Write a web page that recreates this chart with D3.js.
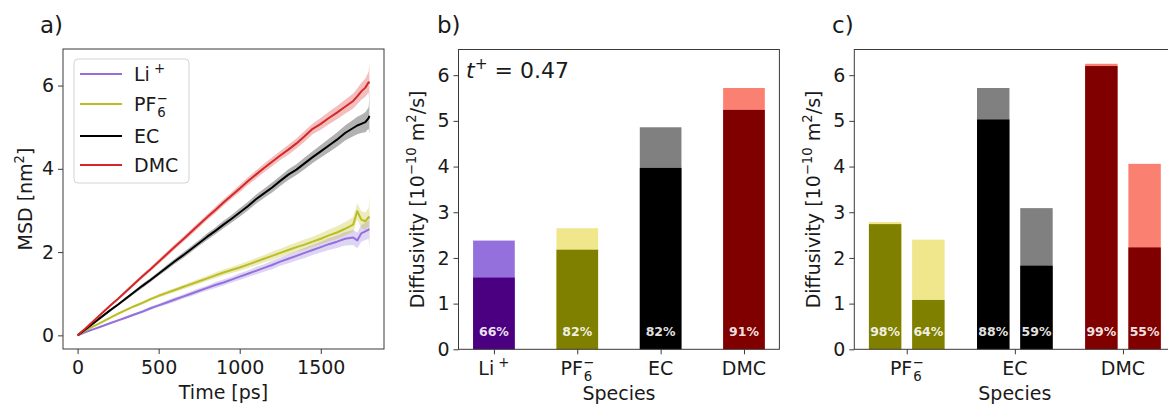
<!DOCTYPE html>
<html><head><meta charset="utf-8">
<script src="https://cdn.jsdelivr.net/npm/d3@7"></script>
<style>
body{margin:0;background:#fff}
svg{display:block}
text{font-family:"DejaVu Sans",sans-serif}
</style>
</head><body>
<svg id="chart" width="1168" height="404"></svg>
<script>
// ---------- Panel a: MSD curves ----------
const msdTime = [0,50,100,150,200,250,300,350,400,450,500,550,600,650,700,750,800,850,900,950,1000,
  1050,1100,1150,1200,1250,1300,1350,1400,1450,1500,1550,1600,1650,1700,1725,1750,1775,1795,1800];
const msdLi  = [0.00,0.08,0.15,0.22,0.29,0.36,0.43,0.50,0.57,0.65,0.72,0.79,0.86,0.93,1.00,1.07,1.14,1.21,1.27,1.34,1.41,
  1.48,1.55,1.62,1.69,1.77,1.84,1.91,1.98,2.05,2.12,2.19,2.25,2.32,2.35,2.28,2.45,2.50,2.54,2.55];
const msdPF6 = [0.00,0.12,0.22,0.32,0.42,0.52,0.61,0.70,0.78,0.87,0.95,1.02,1.09,1.16,1.23,1.30,1.37,1.44,1.51,1.57,1.63,
  1.70,1.77,1.84,1.91,1.98,2.05,2.12,2.18,2.25,2.32,2.40,2.47,2.56,2.66,2.98,2.78,2.74,2.84,2.81];
const msdEC  = [0.00,0.15,0.30,0.45,0.60,0.74,0.89,1.04,1.19,1.33,1.48,1.63,1.78,1.92,2.07,2.22,2.37,2.51,2.66,2.80,2.95,
  3.10,3.27,3.41,3.55,3.71,3.86,3.98,4.13,4.28,4.42,4.56,4.70,4.86,4.98,5.04,5.08,5.12,5.22,5.27];
const msdDMC = [0.00,0.17,0.35,0.53,0.71,0.88,1.06,1.24,1.42,1.59,1.77,1.95,2.13,2.30,2.48,2.66,2.84,3.01,3.19,3.36,3.53,
  3.70,3.86,4.02,4.17,4.32,4.46,4.61,4.78,4.96,5.08,5.22,5.35,5.49,5.63,5.74,5.86,5.95,6.08,6.05];
const errLi  = [0,0.01,0.01,0.02,0.02,0.03,0.03,0.03,0.04,0.04,0.04,0.05,0.05,0.05,0.06,0.06,0.06,0.07,0.07,0.07,0.08,
  0.08,0.09,0.09,0.10,0.10,0.11,0.11,0.12,0.12,0.13,0.14,0.15,0.16,0.18,0.19,0.20,0.21,0.22,0.45];
const errPF6 = [0,0.01,0.01,0.02,0.02,0.03,0.03,0.03,0.04,0.04,0.04,0.05,0.05,0.05,0.06,0.06,0.06,0.07,0.07,0.07,0.08,
  0.08,0.09,0.09,0.10,0.10,0.11,0.11,0.12,0.12,0.13,0.14,0.15,0.16,0.18,0.19,0.20,0.21,0.22,0.55];
const errEC  = [0,0.01,0.02,0.02,0.03,0.03,0.04,0.04,0.05,0.05,0.05,0.06,0.06,0.07,0.07,0.07,0.08,0.08,0.09,0.09,0.10,
  0.10,0.11,0.11,0.12,0.12,0.13,0.13,0.14,0.14,0.15,0.16,0.17,0.18,0.20,0.21,0.22,0.24,0.26,0.43];
const errDMC = [0,0.01,0.02,0.02,0.03,0.03,0.04,0.04,0.05,0.05,0.05,0.06,0.06,0.06,0.07,0.07,0.07,0.08,0.08,0.08,0.09,
  0.09,0.10,0.10,0.11,0.11,0.12,0.12,0.13,0.13,0.14,0.15,0.16,0.17,0.18,0.19,0.20,0.22,0.25,0.50];
const msdNames  = ["Li+","PF6-","EC","DMC"];
const msdColors = ["#9370db","#bcbd22","#000000","#d62728"];
const msdXTicks = [0,500,1000,1500];
const msdYTicks = [0,2,4,6];

// ---------- Panel b: diffusivity per species ----------
const speciesB  = ["Li+","PF6-","EC","DMC"];
const totalB    = [2.38,2.65,4.86,5.72];
const distinctB = [1.57,2.18,3.97,5.24];
const pctB      = ["66%","82%","82%","91%"];
const darkB     = ["#4b0082","#808000","#000000","#800000"];
const lightB    = ["#9370db","#f0e68c","#808080","#fa8072"];
const tPlusText = "0.47";

// ---------- Panel c: two conditions per species ----------
const speciesC   = ["PF6-","EC","DMC"];
const totalC1    = [2.785,5.72,6.25];
const distinctC1 = [2.74,5.03,6.20];
const pctC1      = ["98%","88%","99%"];
const totalC2    = [2.40,3.09,4.06];
const distinctC2 = [1.08,1.83,2.23];
const pctC2      = ["64%","59%","55%"];
const darkC      = ["#808000","#000000","#800000"];
const lightC     = ["#f0e68c","#808080","#fa8072"];
const diffTicks  = [0,1,2,3,4,5,6];

// ---------- helpers ----------
const svg = d3.select("#chart");
svg.append("rect").attr("width",1168).attr("height",404).attr("fill","#fff");
const FS = 19, INK = "#1a1a1a", SPINE = "#3a3a3a";

function rich(textSel, parts, fs) {
  let cur = 0;
  parts.forEach(p => {
    const small = !!p.s;
    const target = p.s === "sub" ? fs*0.30 : (p.s === "sup" ? -fs*0.42 : 0);
    const ts = textSel.append("tspan").text(p.t)
      .attr("dy", target - cur)
      .attr("font-size", small ? fs*0.7 : fs);
    if (p.dx) ts.attr("dx", p.dx);
    if (p.it) ts.attr("font-style","italic");
    cur = target;
  });
}
function speciesParts(name, fs) {
  if (name === "Li+") return [{t:"Li"},{t:"+",s:"sup",dx:fs*0.22}];
  if (name === "PF6-") return [{t:"PF"},{t:"6",s:"sub",dx:fs*0.05},{t:"\u2212",s:"sup",dx:-fs*0.7*0.70}];
  return [{t:name}];
}
function frame(g, box) {
  g.append("rect").attr("x",box.l).attr("y",box.t)
    .attr("width",box.r-box.l).attr("height",box.b-box.t)
    .attr("fill","none").attr("stroke",SPINE).attr("stroke-width",1);
}
function yAxis(g, scale, box, ticks) {
  const a = g.append("g").attr("transform",`translate(${box.l},0)`)
    .call(d3.axisLeft(scale).tickValues(ticks).tickSize(5).tickPadding(4).tickFormat(d3.format("d")));
  a.select(".domain").remove();
  a.selectAll(".tick line").attr("stroke",SPINE);
  a.selectAll(".tick text").attr("font-size",FS).attr("fill",INK)
    .attr("font-family","DejaVu Sans");
}
function xAxisNum(g, scale, box, ticks) {
  const a = g.append("g").attr("transform",`translate(0,${box.b})`)
    .call(d3.axisBottom(scale).tickValues(ticks).tickSize(5).tickPadding(7).tickFormat(d3.format("d")));
  a.select(".domain").remove();
  a.selectAll(".tick line").attr("stroke",SPINE);
  a.selectAll(".tick text").attr("font-size",FS).attr("fill",INK)
    .attr("font-family","DejaVu Sans");
}
function xAxisCat(g, scale, box, names) {
  const a = g.append("g").attr("transform",`translate(0,${box.b})`)
    .call(d3.axisBottom(scale).tickValues(d3.range(names.length)).tickSize(5).tickFormat(""));
  a.select(".domain").remove();
  a.selectAll(".tick line").attr("stroke",SPINE);
  names.forEach((n,i) => {
    const t = g.append("text").attr("x",scale(i)).attr("y",box.b+26)
      .attr("text-anchor","middle").attr("fill",INK).attr("font-size",FS);
    rich(t, speciesParts(n,FS), FS);
  });
}
function diffYLabel(g, x, yc) {
  const t = g.append("text").attr("transform",`translate(${x},${yc}) rotate(-90)`)
    .attr("text-anchor","middle").attr("fill",INK).attr("font-size",FS);
  rich(t,[{t:"Diffusivity [10"},{t:"\u221210",s:"sup"},{t:" m"},{t:"2",s:"sup"},{t:"/s]"}],FS);
}
function panelTitle(x, s) {
  svg.append("text").attr("x",x).attr("y",33).attr("font-size",23).attr("fill",INK).text(s);
}
function pctLabel(g, x, s) {
  g.append("text").attr("x",x).attr("y",335.5).attr("text-anchor","middle").attr("font-size",12.5)
    .attr("font-weight","bold").attr("fill","#fff").attr("fill-opacity",0.9).text(s);
}

// ---------- Panel a ----------
{
  const box = {l:63, r:384, t:49, b:349};
  const g = svg.append("g");
  const tMin = d3.min(msdTime), tMax = d3.max(msdTime), tPad = 0.05*(tMax-tMin);
  const x = d3.scaleLinear().domain([tMin-tPad, tMax+tPad]).range([box.l, box.r]);
  const series = [msdLi, msdPF6, msdEC, msdDMC];
  const errs = [errLi, errPF6, errEC, errDMC];
  let lo = Infinity, hi = -Infinity;
  series.forEach((s,k)=>s.forEach((v,i)=>{lo=Math.min(lo,v-errs[k][i]);hi=Math.max(hi,v+errs[k][i]);}));
  const yPad = 0.05*(hi-lo);
  const y = d3.scaleLinear().domain([lo-yPad, hi+yPad]).range([box.b, box.t]);

  const area = d3.area().x(d=>x(d.t)).y0(d=>y(d.v-d.e)).y1(d=>y(d.v+d.e));
  const line = d3.line().x(d=>x(d.t)).y(d=>y(d.v));
  series.forEach((s,k)=>{
    const pts = msdTime.map((t,i)=>({t, v:s[i], e:errs[k][i]}));
    g.append("path").attr("d",area(pts)).attr("fill",msdColors[k]).attr("fill-opacity",0.3).attr("stroke","none");
  });
  series.forEach((s,k)=>{
    const pts = msdTime.map((t,i)=>({t, v:s[i], e:errs[k][i]}));
    g.append("path").attr("d",line(pts)).attr("fill","none").attr("stroke",msdColors[k])
      .attr("stroke-width",2).attr("stroke-linejoin","round");
  });
  frame(g, box);
  yAxis(g, y, box, msdYTicks);
  xAxisNum(g, x, box, msdXTicks);
  g.append("text").attr("x",(box.l+box.r)/2).attr("y",399).attr("text-anchor","middle")
    .attr("font-size",FS).attr("fill",INK).text("Time [ps]");
  const yl = g.append("text").attr("transform",`translate(32,${(box.t+box.b)/2}) rotate(-90)`)
    .attr("text-anchor","middle").attr("font-size",FS).attr("fill",INK);
  rich(yl,[{t:"MSD [nm"},{t:"2",s:"sup"},{t:"]"}],FS);

  // legend
  const lg = g.append("g");
  lg.append("rect").attr("x",74).attr("y",59).attr("width",115).attr("height",124).attr("rx",4)
    .attr("fill","#fff").attr("fill-opacity",0.85).attr("stroke","#d4d4d4");
  const rowY = [74,104,136,165];
  msdNames.forEach((n,k)=>{
    lg.append("line").attr("x1",80).attr("x2",122).attr("y1",rowY[k]).attr("y2",rowY[k])
      .attr("stroke",msdColors[k]).attr("stroke-width",2);
    const t = lg.append("text").attr("x",134).attr("y",rowY[k]+7).attr("font-size",FS).attr("fill",INK);
    rich(t, speciesParts(n,FS), FS);
  });
  panelTitle(40,"a)");
}

// shared y scale for panels b and c
const yMaxBC = d3.max([...totalB, ...totalC1, ...totalC2]) * 1.05;

// ---------- Panel b ----------
{
  const box = {l:458.5, r:779.4, t:49.5, b:349.3};
  const g = svg.append("g");
  const w = 0.5, n = speciesB.length;
  const pad = 0.05*((n-1+w/2)-(-w/2));
  const x = d3.scaleLinear().domain([-w/2-pad, n-1+w/2+pad]).range([box.l, box.r]);
  const y = d3.scaleLinear().domain([0, yMaxBC]).range([box.b, box.t]);
  const bw = x(w)-x(0);
  speciesB.forEach((s,i)=>{
    g.append("rect").attr("x",x(i)-bw/2).attr("width",bw).attr("y",y(totalB[i])).attr("height",y(0)-y(totalB[i])).attr("fill",lightB[i]);
    g.append("rect").attr("x",x(i)-bw/2).attr("width",bw).attr("y",y(distinctB[i])).attr("height",y(0)-y(distinctB[i])).attr("fill",darkB[i]);
    pctLabel(g, x(i), pctB[i]);
  });
  frame(g, box);
  yAxis(g, y, box, diffTicks);
  xAxisCat(g, x, box, speciesB);
  g.append("text").attr("x",(box.l+box.r)/2).attr("y",400).attr("text-anchor","middle")
    .attr("font-size",FS).attr("fill",INK).text("Species");
  diffYLabel(g, 424, (box.t+box.b)/2);
  const tt = g.append("text").attr("x",466).attr("y",78).attr("font-size",22).attr("fill",INK);
  rich(tt,[{t:"t",it:true},{t:"+",s:"sup"},{t:" = "+tPlusText}],22);
  panelTitle(437,"b)");
}

// ---------- Panel c ----------
{
  const box = {l:854.3, r:1175.4, t:49.5, b:349.3};
  const g = svg.append("g");
  const w = 0.3, off = 0.2, n = speciesC.length;
  const lo = -off-w/2, hi = n-1+off+w/2, pad = 0.05*(hi-lo);
  const x = d3.scaleLinear().domain([lo-pad, hi+pad]).range([box.l, box.r]);
  const y = d3.scaleLinear().domain([0, yMaxBC]).range([box.b, box.t]);
  const bw = x(w)-x(0);
  const groups = [
    {o:-off, tot:totalC1, dis:distinctC1, pct:pctC1},
    {o: off, tot:totalC2, dis:distinctC2, pct:pctC2}
  ];
  speciesC.forEach((s,i)=>{
    groups.forEach(gr=>{
      const cx = x(i+gr.o);
      g.append("rect").attr("x",cx-bw/2).attr("width",bw).attr("y",y(gr.tot[i])).attr("height",y(0)-y(gr.tot[i])).attr("fill",lightC[i]);
      g.append("rect").attr("x",cx-bw/2).attr("width",bw).attr("y",y(gr.dis[i])).attr("height",y(0)-y(gr.dis[i])).attr("fill",darkC[i]);
      pctLabel(g, cx, gr.pct[i]);
    });
  });
  frame(g, box);
  yAxis(g, y, box, diffTicks);
  xAxisCat(g, x, box, speciesC);
  g.append("text").attr("x",(box.l+box.r)/2).attr("y",400).attr("text-anchor","middle")
    .attr("font-size",FS).attr("fill",INK).text("Species");
  diffYLabel(g, 820, (box.t+box.b)/2);
  panelTitle(832,"c)");
}
</script>
</body></html>
